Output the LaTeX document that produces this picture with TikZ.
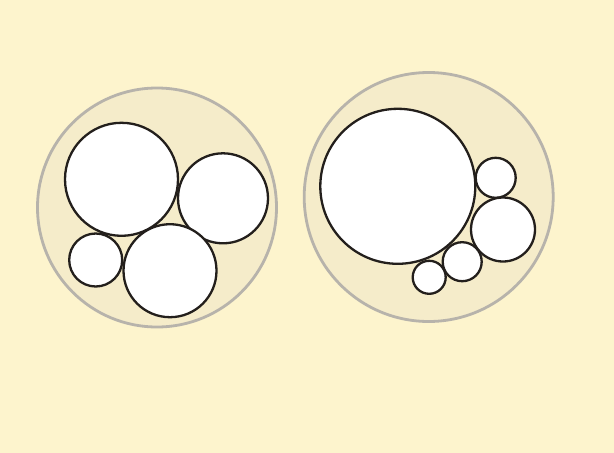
\documentclass[tikz,border=0pt]{standalone}
\usepackage{xcolor}
\definecolor{Paper}{HTML}{FDF4CD}
\definecolor{Tray}{HTML}{F5ECCA}
\definecolor{Rim}{HTML}{B7B3AB}
\definecolor{Ink}{HTML}{231F1C}
\begin{document}
\begin{tikzpicture}[x=1pt,y=-1pt,tray/.style={circle,draw=Rim,fill=Tray,line width=2.8pt,inner sep=0pt},disc/.style={circle,draw=Ink,fill=white,line width=2.3pt,inner sep=0pt}]
\fill[Paper] (0,0) rectangle (614,453);
\useasboundingbox (0,0) rectangle (614,453);
% left group
\node[tray,minimum size=239pt] (trayL) at (157,207.5) {};
\node[disc,minimum size=113pt] (bigL) at (121.5,179.3) {};
\node[disc,minimum size=90pt] (rightL) at (223,198.3) {};
\node[disc,minimum size=53pt] (smallL) at (95.7,260) {};
\node[disc,minimum size=93pt] (lowL) at (170,270.7) {};
% right group
\node[tray,minimum size=249pt] (trayR) at (428.7,197) {};
\node[disc,minimum size=155pt] (bigR) at (397.8,186.3) {};
\node[disc,minimum size=40pt] (topR) at (495.7,177.8) {};
\node[disc,minimum size=64pt] (midR) at (503,229.5) {};
\node[disc,minimum size=39pt] (lowR) at (462.2,261.7) {};
\node[disc,minimum size=33pt] (tinyR) at (429.2,277.3) {};
\end{tikzpicture}
\end{document}
